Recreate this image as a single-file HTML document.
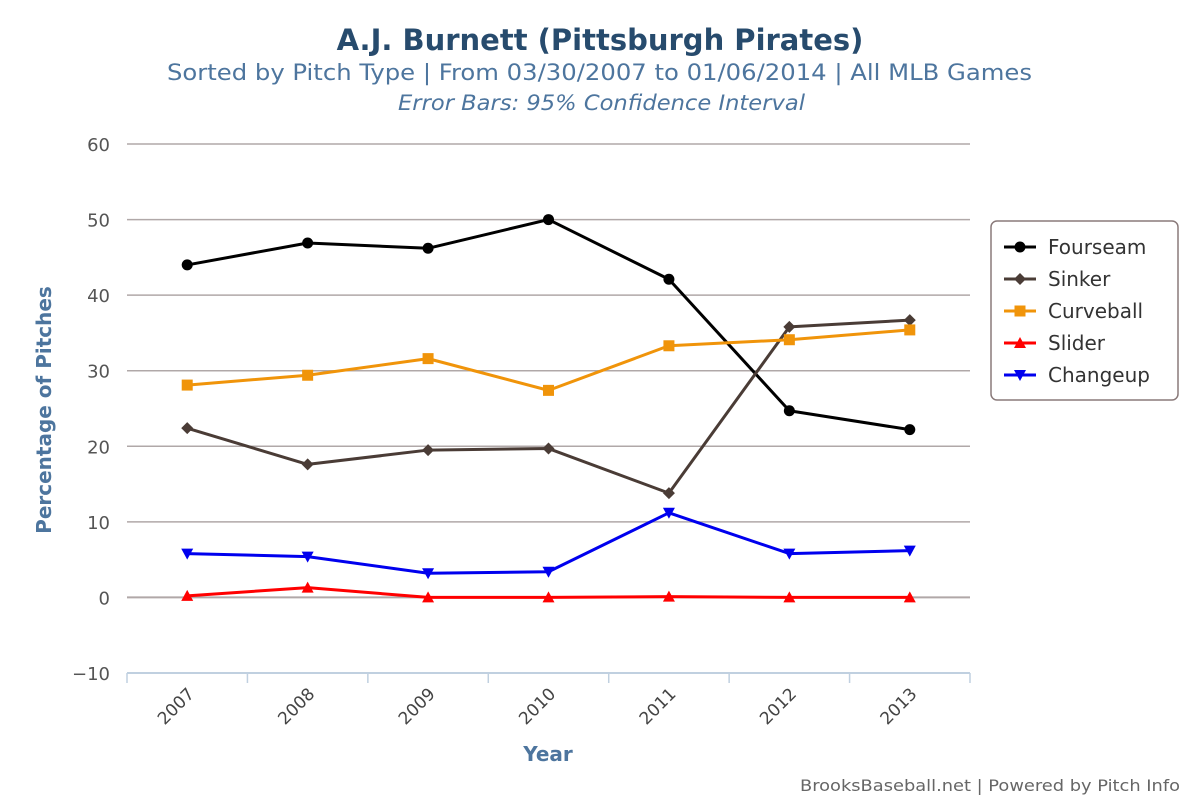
<!DOCTYPE html>
<html><head><meta charset="utf-8"><style>
body{margin:0;background:#fff;}
svg{display:block;font-family:"DejaVu Sans","Liberation Sans",sans-serif;}
</style></head><body>
<svg id="chart" width="1200" height="800" viewBox="0 0 1200 800">
<text x="600" y="50" text-anchor="middle" font-size="29" font-weight="bold" fill="#274b6d">A.J. Burnett (Pittsburgh Pirates)</text>
<text x="167" y="80" font-size="22" fill="#4d759e" textLength="865" lengthAdjust="spacingAndGlyphs">Sorted by Pitch Type | From 03/30/2007 to 01/06/2014 | All MLB Games</text>
<text x="398" y="110" font-size="21" font-style="italic" fill="#4d759e" textLength="407" lengthAdjust="spacingAndGlyphs">Error Bars: 95% Confidence Interval</text>
<g id="grid"></g><g id="axes"></g><g id="series"></g>
<text transform="translate(51,410) rotate(-90)" text-anchor="middle" font-size="20" font-weight="bold" fill="#4d759e">Percentage of Pitches</text>
<text x="548" y="761" text-anchor="middle" font-size="20" font-weight="bold" fill="#4d759e">Year</text>
<text x="800" y="791" font-size="16" fill="#666" textLength="380" lengthAdjust="spacingAndGlyphs">BrooksBaseball.net | Powered by Pitch Info</text>
<g id="legend"></g>
</svg>
<script>
const categories=["2007","2008","2009","2010","2011","2012","2013"];
const yTicks=[-10,0,10,20,30,40,50,60];
const seriesNames=["Fourseam","Sinker","Curveball","Slider","Changeup"];
const fourseam=[44.0,46.9,46.2,50.0,42.1,24.7,22.2];
const sinker=[22.4,17.6,19.5,19.7,13.8,35.8,36.7];
const curveball=[28.1,29.4,31.6,27.4,33.3,34.1,35.4];
const slider=[0.2,1.3,0,0,0.1,0,0];
const changeup=[5.8,5.4,3.2,3.4,11.2,5.8,6.2];
const NS="http://www.w3.org/2000/svg";
const L=127,R=970,T=144,B=673,ymin=-10,ymax=60;
const bw=(R-L)/categories.length;
const xs=i=>L+bw*(i+0.5);
const ys=v=>B-(v-ymin)/(ymax-ymin)*(B-T);
function mk(tag,attrs,parent){const e=document.createElementNS(NS,tag);for(const k in attrs)e.setAttribute(k,attrs[k]);parent.appendChild(e);return e;}
const grid=document.getElementById('grid'),axes=document.getElementById('axes'),ser=document.getElementById('series');
yTicks.forEach(t=>{
 const l=mk('line',{x1:L,x2:R,y1:ys(t),y2:ys(t),stroke:t===-10?'#c0d0e0':'#b0a8a8','stroke-width':t===0?2:1.5},grid);
 
 
 const tx=mk('text',{x:L-17,y:ys(t)+7,'text-anchor':'end','font-size':18,fill:'#555'},axes);
 tx.textContent=(t<0?'\u2212'+(-t):t);
 
 
});
const ax=mk('line',{x1:L,x2:R,y1:B,y2:B,stroke:'#c0d0e0','stroke-width':2},axes);


for(let i=0;i<=categories.length;i++){const tk=mk('line',{x1:L+bw*i,x2:L+bw*i,y1:B,y2:B+10,stroke:'#c0d0e0','stroke-width':1.5},axes);
 
 }
categories.forEach((c,i)=>{
 const tx=mk('text',{transform:`translate(${xs(i)+8},${B+22}) rotate(-45)`,'text-anchor':'end','font-size':17,fill:'#444'},axes);
 tx.textContent=c;
 
 
});
const colors=['#000000','#4a3c36','#f0940a','#ff0000','#0000ee'];
const shapes=['circle','diamond','square','tri','tridown'];
const data=[fourseam,sinker,curveball,slider,changeup];
function marker(shape,x,y,c,g){
 let e;
 if(shape==='circle')e=mk('circle',{cx:x,cy:y,r:5.5,fill:c},g);
 else if(shape==='square')e=mk('rect',{x:x-5.5,y:y-5.5,width:11,height:11,fill:c},g);
 else if(shape==='diamond')e=mk('path',{d:`M${x} ${y-6}L${x+6} ${y}L${x} ${y+6}L${x-6} ${y}Z`,fill:c},g);
 else if(shape==='tri')e=mk('path',{d:`M${x} ${y-6}L${x+6} ${y+5}L${x-6} ${y+5}Z`,fill:c},g);
 else e=mk('path',{d:`M${x} ${y+6}L${x+6} ${y-5}L${x-6} ${y-5}Z`,fill:c},g);
 return e;
}
data.forEach((arr,s)=>{
 const g=mk('g',{},ser);
 
 
 const p=mk('polyline',{points:arr.map((v,i)=>xs(i)+','+ys(v)).join(' '),fill:'none',stroke:colors[s],'stroke-width':3,'stroke-linejoin':'round'},g);
 
 
 arr.forEach((v,i)=>{const m=marker(shapes[s],xs(i),ys(v),colors[s],g);
  
  });
});
const lg=document.getElementById('legend');
const box=mk('rect',{x:991,y:221,width:187,height:179,rx:6,fill:'#fff',stroke:'#8a7a7a','stroke-width':1.5},lg);


seriesNames.forEach((n,s)=>{
 const y=247+s*32;
 const g=mk('g',{},lg);
 
 
 mk('line',{x1:1004,x2:1036,y1:y,y2:y,stroke:colors[s],'stroke-width':3},g);
 marker(shapes[s],1020,y,colors[s],g);
 const t=mk('text',{x:1048,y:y+7,'font-size':20,fill:'#333'},g);
 t.textContent=n;
});
</script>
</body></html>
